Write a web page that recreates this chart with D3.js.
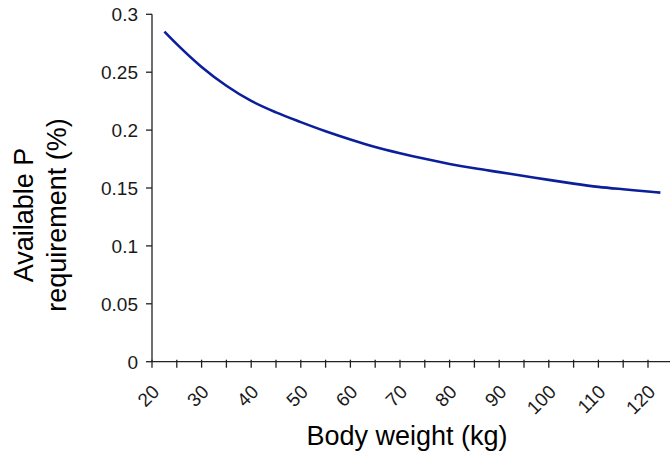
<!DOCTYPE html>
<html><head><meta charset="utf-8">
<script src="https://cdn.jsdelivr.net/npm/d3@7"></script>
<style>body{margin:0;background:#fff}svg{display:block}text{font-family:"Liberation Sans",Arial,sans-serif;fill:#000}</style>
</head><body><svg id="c" width="670" height="452"></svg>
<script>
const bodyWeight = [22.5, 25, 30, 35, 40, 45, 50, 55, 60, 65, 70, 75, 80, 85, 90, 95, 100, 105, 110, 115, 120, 122.5];
const pRequirement = [0.285, 0.2742, 0.2545, 0.2383, 0.2252, 0.2153, 0.2069, 0.1990, 0.1919, 0.1855, 0.1801, 0.1752, 0.1708, 0.1670, 0.1637, 0.1604, 0.1570, 0.1538, 0.1510, 0.1489, 0.1470, 0.1460];
const xTicks = [20,25,30,35,40,45,50,55,60,65,70,75,80,85,90,95,100,105,110,115,120];
const xLabels = [20,30,40,50,60,70,80,90,100,110,120];
const yTicks = [0, 0.05, 0.1, 0.15, 0.2, 0.25, 0.3];
const yTickLabels = ["0","0.05","0.1","0.15","0.2","0.25","0.3"];

const svg = d3.select("#c");
const x = d3.scaleLinear().domain([20,125]).range([152,672.8]);
const y = d3.scaleLinear().domain([0,0.3]).range([361.7,14.3]);
const axisColor = "#222";

// y axis
const gy = svg.append("g");
gy.append("line").attr("x1",152).attr("x2",152).attr("y1",y(0.3)).attr("y2",y(0)).attr("stroke",axisColor).attr("stroke-width",1.3);
gy.selectAll("line.t").data(yTicks).join("line").attr("class","t")
  .attr("x1",146).attr("x2",152).attr("y1",d=>y(d)).attr("y2",d=>y(d)).attr("stroke",axisColor).attr("stroke-width",1.3);
gy.selectAll("text").data(yTicks).join("text")
  .attr("x",138).attr("y",d=>y(d)).attr("dy","0.36em").attr("text-anchor","end")
  .style("font-size","19px").style("fill","#1a1a1a").text((d,i)=>yTickLabels[i]);

// x axis
const gx = svg.append("g");
gx.append("line").attr("x1",152).attr("x2",670).attr("y1",y(0)).attr("y2",y(0)).attr("stroke",axisColor).attr("stroke-width",1.3);
gx.selectAll("line.t").data(xTicks).join("line").attr("class","t")
  .attr("x1",d=>x(d)).attr("x2",d=>x(d)).attr("y1",y(0)-2).attr("y2",y(0)+6).attr("stroke",axisColor).attr("stroke-width",1.3);
gx.selectAll("text").data(xLabels).join("text")
  .attr("transform",d=>`translate(${x(d)-1},${y(0)+22}) rotate(-45)`)
  .attr("text-anchor","end").attr("dy","0.7em")
  .style("font-size","19px").style("fill","#1a1a1a").text(d=>d);

// axis titles
svg.append("text").attr("x",407).attr("y",445).attr("text-anchor","middle").style("font-size","27px").text("Body weight (kg)");
const yt = svg.append("text").attr("transform","translate(0,215) rotate(-90)").attr("text-anchor","middle").style("font-size","27px");
yt.append("tspan").attr("x",0).attr("y",33).text("Available P");
yt.append("tspan").attr("x",0).attr("y",66).text("requirement (%)");

// line
const line = d3.line().x((d,i)=>x(bodyWeight[i])).y(d=>y(d)).curve(d3.curveMonotoneX);
svg.append("path").datum(pRequirement).attr("d",line).attr("fill","none").attr("stroke","#0b1f9b").attr("stroke-width",2.6);
</script></body></html>
